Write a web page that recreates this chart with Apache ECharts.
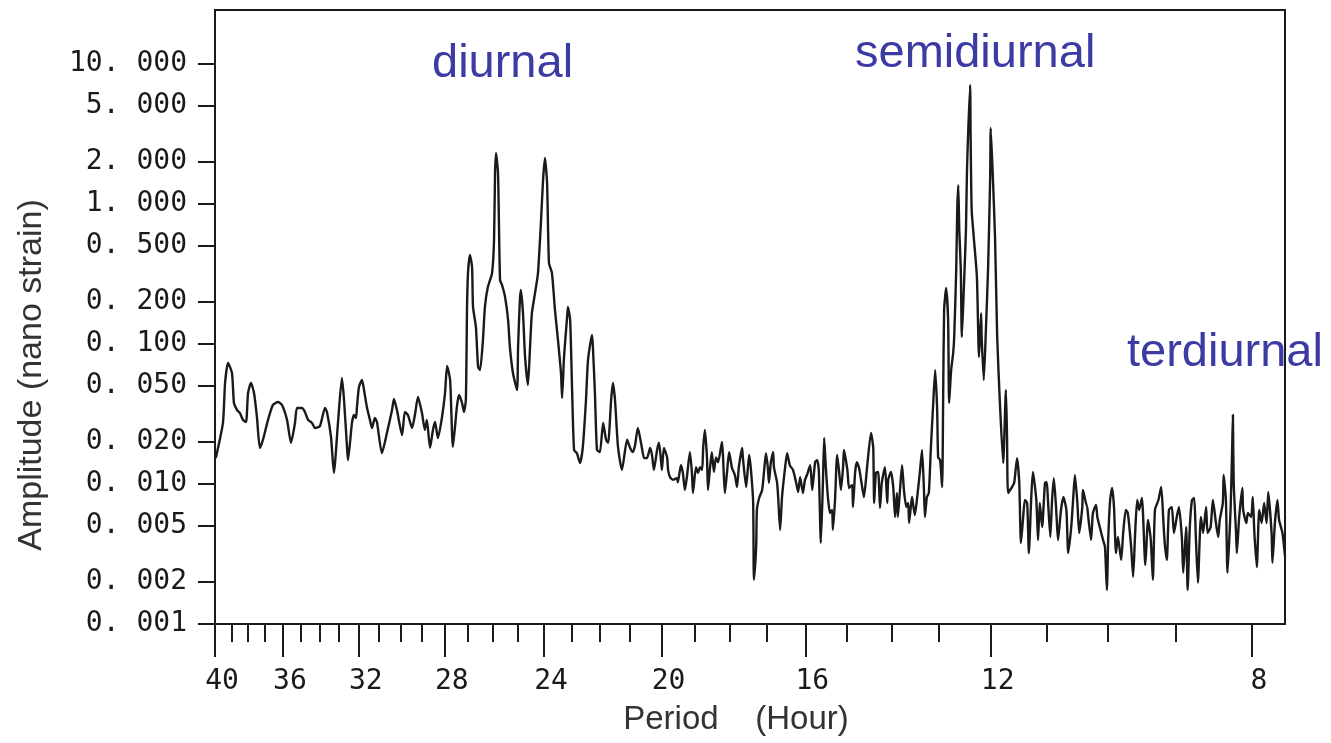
<!DOCTYPE html>
<html><head><meta charset="utf-8">
<script src="https://cdn.jsdelivr.net/npm/echarts@6/dist/echarts.min.js"></script>
<style>html,body{margin:0;padding:0;background:#fff}#chart{width:1331px;height:743px}</style>
</head><body><div id="chart"></div>
<script>
// [period (hour), amplitude (nano strain)]
const spectrum = [
[39.94,0.0155],[39.51,0.0273],[39.38,0.0526],[39.20,0.0732],[38.96,0.0621],[38.84,0.0379],[38.66,0.0338],[38.48,0.0321],[38.30,0.0287],[38.12,0.0277],
[38.00,0.0447],[37.83,0.0526],[37.65,0.0447],[37.48,0.0301],[37.31,0.0181],[37.13,0.0207],[36.84,0.0287],[36.56,0.0367],[36.27,0.0385],[36.05,0.0367],
[35.77,0.0287],[35.55,0.0197],[35.33,0.0273],[35.22,0.0349],[34.95,0.0349],[34.79,0.0327],[34.62,0.0287],[34.41,0.0273],[34.25,0.0251],[33.99,0.0259],
[33.72,0.0349],[33.62,0.0327],[33.41,0.0217],[33.26,0.0120],[33.05,0.0273],[32.85,0.0571],[32.74,0.0398],[32.59,0.0184],[32.54,0.0148],[32.34,0.0273],
[32.24,0.0311],[32.14,0.0296],[32.09,0.0355],[31.99,0.0493],[31.84,0.0553],[31.74,0.0469],[31.60,0.0355],[31.45,0.0287],[31.35,0.0251],[31.21,0.0296],
[31.11,0.0277],[30.87,0.0166],[30.63,0.0232],[30.39,0.0338],[30.30,0.0405],[30.16,0.0338],[29.92,0.0224],[29.79,0.0327],[29.65,0.0311],[29.46,0.0251],
[29.33,0.0311],[29.19,0.0418],[29.01,0.0321],[28.88,0.0243],[28.79,0.0287],[28.65,0.0181],[28.52,0.0243],[28.43,0.0277],[28.30,0.0213],[28.12,0.0301],
[27.99,0.0447],[27.90,0.0696],[27.77,0.0553],[27.65,0.0184],[27.48,0.0355],[27.39,0.0432],[27.26,0.0379],[27.18,0.0327],[27.10,0.0398],[27.05,0.184],
[27.01,0.321],[26.93,0.432],[26.84,0.355],[26.80,0.184],[26.68,0.132],[26.59,0.0685],[26.51,0.0652],[26.39,0.107],[26.31,0.184],[26.19,0.255],
[26.02,0.321],[25.94,0.553],[25.90,1.66],[25.86,2.31],[25.78,1.66],[25.70,0.287],[25.62,0.264],[25.50,0.217],[25.38,0.148],[25.31,0.0952],
[25.19,0.0621],[25.03,0.0469],[24.99,0.0952],[24.92,0.207],[24.88,0.243],[24.80,0.166],[24.72,0.0807],[24.61,0.0509],[24.53,0.0952],[24.46,0.166],
[24.34,0.232],[24.23,0.321],[24.12,0.732],[24.04,1.48],[23.97,2.13],[23.89,1.41],[23.82,0.379],[23.71,0.321],[23.60,0.175],[23.49,0.107],
[23.38,0.0621],[23.34,0.0411],[23.27,0.0807],[23.16,0.155],[23.13,0.184],[23.05,0.148],[22.98,0.0469],[22.91,0.0175],[22.81,0.0166],[22.70,0.0141],
[22.60,0.0184],[22.49,0.0398],[22.42,0.0768],[22.28,0.116],[22.25,0.0952],[22.18,0.0447],[22.11,0.0175],[22.01,0.0169],[21.90,0.0273],[21.80,0.0207],
[21.73,0.0197],[21.63,0.0398],[21.57,0.0526],[21.50,0.0398],[21.40,0.0184],[21.27,0.0126],[21.10,0.0207],[21.00,0.0181],[20.91,0.0169],[20.84,0.0190],
[20.75,0.0251],[20.62,0.0181],[20.55,0.0153],[20.46,0.0153],[20.36,0.0181],[20.30,0.0161],[20.24,0.0126],[20.14,0.0175],[20.08,0.0197],[20.02,0.0148],
[19.99,0.0126],[19.93,0.0181],[19.83,0.0155],[19.80,0.0126],[19.74,0.0112],[19.65,0.0107],[19.53,0.0110],[19.50,0.0103],[19.41,0.0136],[19.35,0.0120],
[19.29,0.00906],[19.23,0.0112],[19.14,0.0169],[19.08,0.0120],[19.05,0.00862],[18.96,0.0132],[18.90,0.0120],[18.84,0.0132],[18.78,0.0126],[18.75,0.0181],
[18.70,0.0243],[18.64,0.0155],[18.61,0.00906],[18.55,0.0132],[18.50,0.0169],[18.44,0.0122],[18.38,0.0155],[18.32,0.0143],[18.21,0.0200],[18.18,0.0155],
[18.13,0.00862],[18.07,0.0120],[18.01,0.0169],[17.93,0.0130],[17.85,0.0116],[17.79,0.00951],[17.74,0.0132],[17.65,0.0181],[17.63,0.0155],[17.54,0.00951],
[17.46,0.0161],[17.41,0.0126],[17.35,0.00732],[17.33,0.00207],[17.27,0.00355],[17.25,0.00652],[17.19,0.00794],[17.11,0.00906],[17.06,0.0122],[17.01,0.0166],
[16.96,0.0132],[16.93,0.0102],[16.88,0.0143],[16.82,0.0169],[16.80,0.0132],[16.72,0.0103],[16.69,0.00807],[16.64,0.00470],[16.59,0.00807],[16.51,0.0132],
[16.46,0.0166],[16.39,0.0136],[16.31,0.0126],[16.23,0.0102],[16.18,0.00876],[16.13,0.0112],[16.06,0.00862],[16.01,0.0107],[15.96,0.0116],[15.88,0.0136],
[15.83,0.00906],[15.76,0.0143],[15.71,0.0148],[15.67,0.0126],[15.62,0.00379],[15.57,0.0102],[15.54,0.0213],[15.50,0.0132],[15.45,0.00807],[15.40,0.00621],
[15.35,0.00652],[15.33,0.00470],[15.28,0.00768],[15.23,0.0161],[15.18,0.0120],[15.14,0.00906],[15.09,0.0132],[15.07,0.0175],[14.99,0.0126],[14.95,0.00936],
[14.88,0.00984],[14.86,0.00685],[14.81,0.0122],[14.77,0.0143],[14.72,0.0130],[14.65,0.00951],[14.61,0.00807],[14.54,0.0130],[14.45,0.0232],[14.40,0.0181],
[14.38,0.00732],[14.34,0.0120],[14.29,0.0122],[14.25,0.00674],[14.21,0.0102],[14.14,0.0132],[14.09,0.00732],[14.07,0.0107],[14.01,0.0122],[13.96,0.00951],
[13.92,0.00581],[13.88,0.00862],[13.86,0.00581],[13.81,0.00951],[13.77,0.0136],[13.73,0.00906],[13.68,0.00685],[13.64,0.00732],[13.62,0.00527],[13.56,0.00807],
[13.54,0.00732],[13.50,0.00600],[13.45,0.00807],[13.39,0.0126],[13.35,0.0175],[13.31,0.00906],[13.29,0.00581],[13.25,0.00807],[13.21,0.00862],[13.17,0.0175],
[13.12,0.0379],[13.08,0.0652],[13.04,0.0338],[13.02,0.0155],[12.98,0.0148],[12.94,0.00951],[12.92,0.0379],[12.90,0.175],[12.86,0.251],[12.82,0.148],
[12.80,0.0379],[12.76,0.0652],[12.72,0.0862],[12.70,0.112],[12.66,0.338],[12.64,0.906],[12.62,1.36],[12.60,0.652],[12.57,0.338],[12.55,0.112],
[12.51,0.255],[12.47,0.652],[12.45,1.75],[12.39,7.08],[12.38,3.01],[12.36,0.906],[12.32,0.581],[12.26,0.301],[12.22,0.0807],[12.18,0.166],
[12.17,0.112],[12.13,0.0553],[12.09,0.126],[12.05,0.338],[12.01,1.55],[12.00,3.49],[11.96,1.55],[11.92,0.581],[11.88,0.112],[11.83,0.0379],
[11.77,0.0141],[11.72,0.0469],[11.70,0.0217],[11.68,0.00862],[11.61,0.00951],[11.57,0.0102],[11.52,0.0153],[11.48,0.0102],[11.45,0.00379],[11.41,0.00581],
[11.38,0.00768],[11.34,0.00732],[11.31,0.00321],[11.27,0.00768],[11.24,0.0122],[11.18,0.00768],[11.15,0.00398],[11.12,0.00732],[11.08,0.00493],[11.03,0.0102],
[11.00,0.0103],[10.98,0.00768],[10.94,0.00418],[10.91,0.00768],[10.88,0.0110],[10.84,0.00652],[10.81,0.00398],[10.76,0.00652],[10.72,0.00807],[10.67,0.00652],
[10.64,0.00321],[10.59,0.00493],[10.56,0.00768],[10.53,0.0116],[10.49,0.00732],[10.46,0.00447],[10.41,0.00685],[10.40,0.00906],[10.33,0.00685],[10.32,0.00685],
[10.27,0.00398],[10.24,0.00621],[10.19,0.00708],[10.17,0.00581],[10.12,0.00470],[10.08,0.00398],[10.05,0.00355],[10.02,0.00175],[10.00,0.00398],[9.97,0.00768],
[9.94,0.00936],[9.91,0.00685],[9.88,0.00321],[9.85,0.00418],[9.80,0.00287],[9.77,0.00447],[9.73,0.00652],[9.70,0.00621],[9.65,0.00355],[9.62,0.00217],
[9.59,0.00447],[9.56,0.00768],[9.53,0.00652],[9.49,0.00794],[9.44,0.00264],[9.40,0.00553],[9.36,0.00398],[9.33,0.00207],[9.30,0.00652],[9.25,0.00768],
[9.21,0.00951],[9.18,0.00553],[9.16,0.00379],[9.13,0.00287],[9.10,0.00652],[9.06,0.00685],[9.03,0.00447],[8.99,0.00581],[8.96,0.00685],[8.92,0.00418],
[8.90,0.00232],[8.86,0.00493],[8.84,0.00175],[8.81,0.00493],[8.78,0.00768],[8.75,0.00794],[8.73,0.00447],[8.70,0.00197],[8.66,0.00581],[8.63,0.00447],
[8.59,0.00685],[8.57,0.00447],[8.53,0.00493],[8.50,0.00768],[8.46,0.00527],[8.43,0.00418],[8.41,0.00553],[8.37,0.00732],[8.36,0.0116],[8.33,0.00768],
[8.31,0.00232],[8.27,0.00652],[8.25,0.0175],[8.24,0.0311],[8.23,0.0102],[8.20,0.00447],[8.19,0.00321],[8.16,0.00581],[8.12,0.00936],[8.11,0.00652],
[8.07,0.00527],[8.05,0.00621],[8.01,0.00581],[7.99,0.00807],[7.97,0.00447],[7.94,0.00255],[7.91,0.00652],[7.88,0.00527],[7.85,0.00732],[7.82,0.00527],
[7.80,0.00876],[7.76,0.00447],[7.75,0.00274],[7.72,0.00527],[7.69,0.00768],[7.67,0.00553],[7.63,0.00447],[7.60,0.00305]
];
const majorHours = [40,36,32,28,24,20,16,12,8];
const minorHours = [39,38,37,35,34,33,31,30,29,27,26,25,23,22,21,19,18,17,15,14,13,11,10,9];
const amplitudeTicks = [10,5,2,1,0.5,0.2,0.1,0.05,0.02,0.01,0.005,0.002,0.001];
const periodRange = [7.6, 40];
const amplitudeRange = [0.001, 24.3];
const bandNames = ['diurnal', 'semidiurnal', 'terdiurnal'];
const axisTitles = ['Amplitude (nano strain)', 'Period    (Hour)'];

const ink = '#1a1a1a';
const mono = '"DejaVu Sans Mono", monospace';
const sans = '"Liberation Sans", Arial, sans-serif';
const bandColor = '#3b3ba3';

const chart = echarts.init(document.getElementById('chart'), null, {renderer: 'canvas'});
const gridBox = {left: 215, top: 10, width: 1070, height: 614};
chart.setOption({
  animation: false,
  backgroundColor: '#fff',
  grid: [
    Object.assign({show: true, borderColor: ink, borderWidth: 2, backgroundColor: 'transparent'}, gridBox),
    Object.assign({}, gridBox)
  ],
  xAxis: [
    {
      gridIndex: 0, type: 'log', logBase: 10, min: periodRange[0], max: periodRange[1], inverse: true,
      axisLine: {show: true, lineStyle: {color: ink, width: 2}},
      axisTick: {show: true, customValues: minorHours, length: 18, lineStyle: {color: ink, width: 2}},
      axisLabel: {show: false},
      splitLine: {show: false}
    },
    {
      gridIndex: 1, type: 'log', logBase: 10, min: periodRange[0], max: periodRange[1], inverse: true,
      axisLine: {show: false},
      axisTick: {show: true, customValues: majorHours, length: 33, lineStyle: {color: ink, width: 2}},
      axisLabel: {show: true, customValues: majorHours, margin: 44, fontFamily: mono, fontSize: 28, color: ink,
        padding: [0, 0, 0, 14], formatter: v => String(Math.round(v))},
      splitLine: {show: false}
    }
  ],
  yAxis: [
    {
      gridIndex: 0, type: 'log', logBase: 10, min: amplitudeRange[0], max: amplitudeRange[1],
      axisLine: {show: true, lineStyle: {color: ink, width: 2}},
      axisTick: {show: true, customValues: amplitudeTicks, length: 17, lineStyle: {color: ink, width: 2}},
      axisLabel: {show: true, customValues: amplitudeTicks, margin: 28, fontFamily: mono, fontSize: 28, color: ink,
        padding: [14, 0, 0, 0],
        formatter: v => Number(v).toFixed(3).replace('.', '. ')},
      splitLine: {show: false}
    },
    {
      gridIndex: 1, type: 'log', logBase: 10, min: amplitudeRange[0], max: amplitudeRange[1], show: false
    }
  ],
  series: [{
    type: 'line', xAxisIndex: 0, yAxisIndex: 0, data: spectrum,
    showSymbol: false, symbol: 'none', clip: true, smooth: 0.2,
    lineStyle: {color: ink, width: 2.4, join: 'round', cap: 'round'}
  }],
  graphic: [
    {type: 'text', left: 432, top: 41, style: {text: bandNames[0], font: '47px ' + sans, fill: bandColor}},
    {type: 'text', left: 855, top: 31, style: {text: bandNames[1], font: '47px ' + sans, fill: bandColor}},
    {type: 'text', left: 1127, top: 330, style: {text: bandNames[2], font: '47px ' + sans, fill: bandColor}},
    {type: 'text', x: 32, y: 375, rotation: Math.PI / 2,
      style: {text: axisTitles[0], font: '34px ' + sans, fill: '#333', align: 'center', verticalAlign: 'middle'}},
    {type: 'text', x: 736, y: 720,
      style: {text: axisTitles[1], font: '33px ' + sans, fill: '#333', align: 'center', verticalAlign: 'middle'}}
  ]
});
</script></body></html>
